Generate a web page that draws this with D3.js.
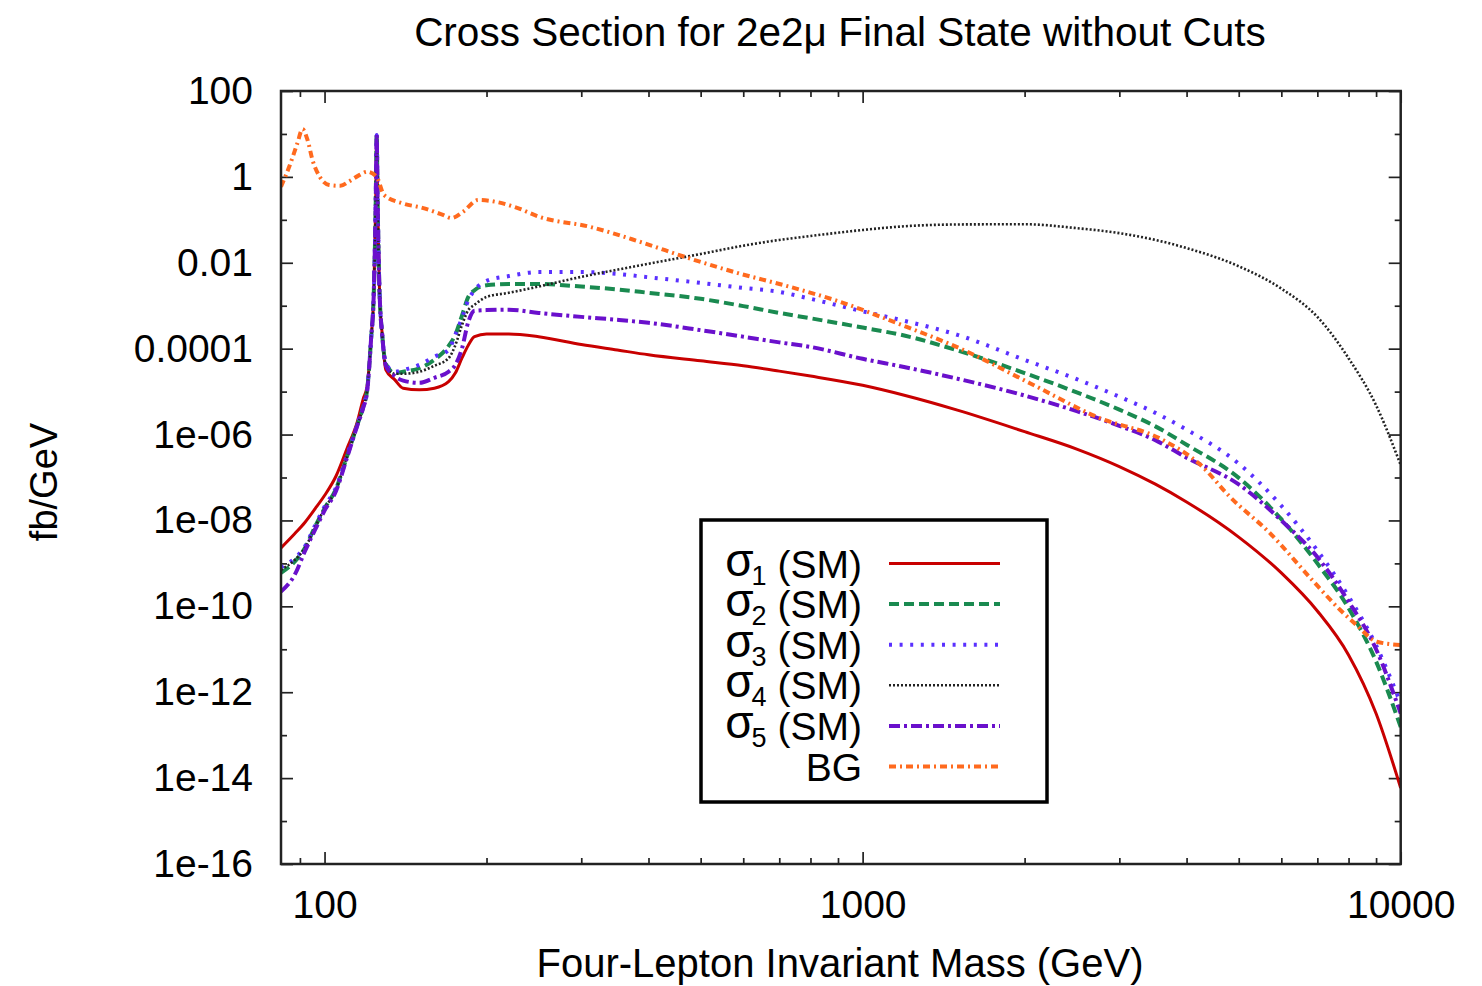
<!DOCTYPE html>
<html>
<head>
<meta charset="utf-8">
<script src="https://cdn.jsdelivr.net/npm/d3@7"></script>
<style>
  body { margin: 0; background: #fff; }
  text { font-family: "Liberation Sans", Arial, Helvetica, sans-serif; }
</style>
</head>
<body>
<svg id="chart" width="1482" height="986"></svg>
<script>
// ---- data (fb/GeV vs four-lepton mass in GeV) ----
var sigMass = [83, 88, 92, 96, 100, 105, 110, 115, 118, 120,
    122, 123.5, 124.5, 125, 125.5, 126.5, 128, 130, 135, 140,
    150, 160, 170, 175, 180, 185, 190, 200, 220, 250,
    300, 350, 400, 500, 600, 700, 800, 1000, 1200, 1500,
    2000, 2500, 3000, 3500, 4000, 5000, 6000, 7000, 8000, 9000, 10000];

var sigma1 = [2.3e-9, 4.9e-9, 9.1e-9, 1.86e-8, 3.8e-8, 1.07e-7, 4.6e-7, 1.95e-6, 6.8e-6, 1.35e-5,
    1.6e-4, 2.3e-3, 2.9e-1, 9.5, 2.9e-1, 2.3e-3, 2.1e-4, 3.2e-5, 1.9e-5, 1.2e-5,
    1.1e-5, 1.2e-5, 1.7e-5, 2.7e-5, 6.0e-5, 1.2e-4, 1.9e-4, 2.2e-4, 2.2e-4, 1.9e-4,
    1.25e-4, 9.3e-5, 7.2e-5, 5.2e-5, 4.0e-5, 3.0e-5, 2.3e-5, 1.4e-5, 8.1e-6, 3.7e-6,
    1.17e-6, 4.6e-7, 1.8e-7, 7.0e-8, 2.7e-8, 4.1e-9, 6.0e-10, 7.8e-11, 7.4e-12, 3.2e-13, 5.9e-15];

var sigma2 = [6.0e-10, 1.1e-9, 2.3e-9, 7.1e-9, 1.9e-8, 5.4e-8, 3.0e-7, 1.66e-6, 4.4e-6, 1.1e-5,
    1.6e-4, 2.3e-3, 2.9e-1, 9.5, 2.9e-1, 2.3e-3, 2.1e-4, 4.4e-5, 2.7e-5, 2.9e-5,
    3.5e-5, 5.5e-5, 1.15e-4, 2.1e-4, 5.8e-4, 1.6e-3, 2.3e-3, 3.0e-3, 3.2e-3, 3.2e-3,
    2.8e-3, 2.4e-3, 2.0e-3, 1.45e-3, 9.8e-4, 6.8e-4, 5.1e-4, 3.1e-4, 2.0e-4, 9.1e-5,
    2.7e-5, 9.6e-6, 3.8e-6, 1.55e-6, 5.8e-7, 9.8e-8, 1.07e-8, 1.0e-9, 9.1e-11, 5.2e-12, 1.55e-13];

var sigma3 = [8.1e-10, 1.3e-9, 2.5e-9, 7.6e-9, 2.1e-8, 5.8e-8, 3.2e-7, 1.7e-6, 4.6e-6, 1.15e-5,
    1.6e-4, 2.3e-3, 2.9e-1, 9.5, 2.9e-1, 2.3e-3, 2.1e-4, 4.6e-5, 2.9e-5, 3.2e-5,
    4.2e-5, 6.5e-5, 9.3e-5, 2.1e-4, 5.1e-4, 1.35e-3, 2.3e-3, 3.8e-3, 4.9e-3, 6.1e-3,
    6.1e-3, 5.5e-3, 4.6e-3, 3.4e-3, 2.6e-3, 2.1e-3, 1.45e-3, 7.4e-4, 4.4e-4, 2.1e-4,
    5.5e-5, 1.95e-5, 7.6e-6, 3.2e-6, 1.3e-6, 2.1e-7, 2.2e-8, 2.0e-9, 1.7e-10, 1.23e-11, 5.5e-13];

var sigma4 = [7.1e-10, 1.2e-9, 2.3e-9, 6.9e-9, 1.9e-8, 5.2e-8, 3.0e-7, 1.6e-6, 4.3e-6, 1.07e-5,
    1.6e-4, 2.3e-3, 2.9e-1, 9.5, 2.9e-1, 2.3e-3, 2.1e-4, 4.2e-5, 2.6e-5, 2.6e-5,
    2.9e-5, 4.0e-5, 6.0e-5, 1.2e-4, 3.5e-4, 7.9e-4, 1.05e-3, 1.6e-3, 2.0e-3, 2.8e-3,
    4.7e-3, 6.9e-3, 9.5e-3, 1.6e-2, 2.5e-2, 3.4e-2, 4.2e-2, 5.8e-2, 7.1e-2, 7.8e-2,
    7.9e-2, 6.4e-2, 4.9e-2, 3.4e-2, 2.2e-2, 8.3e-3, 2.5e-3, 5.5e-4, 6.0e-5, 4.8e-6, 1.95e-7];

var sigma5 = [2.2e-10, 5.4e-10, 1.95e-9, 6.0e-9, 1.7e-8, 4.8e-8, 2.8e-7, 1.6e-6, 4.2e-6, 1.0e-5,
    1.6e-4, 2.3e-3, 2.9e-1, 9.5, 2.9e-1, 2.3e-3, 2.1e-4, 4.0e-5, 2.3e-5, 1.8e-5,
    1.6e-5, 2.1e-5, 2.9e-5, 4.2e-5, 1.0e-4, 4.2e-4, 7.6e-4, 7.9e-4, 8.1e-4, 6.8e-4,
    5.5e-4, 4.7e-4, 4.0e-4, 2.7e-4, 1.9e-4, 1.4e-4, 1.1e-4, 5.8e-5, 3.7e-5, 2.0e-5,
    8.1e-6, 3.5e-6, 1.6e-6, 7.4e-7, 2.9e-7, 6.9e-8, 1.0e-8, 1.4e-9, 1.3e-10, 1.0e-11, 3.2e-13];

var bgMass = [83, 86, 89, 91, 93, 95, 98, 102, 107, 111,
    116, 120, 125, 129, 140, 152, 166, 172, 181, 193,
    209, 228, 251, 311, 385, 477, 591, 733, 908, 1160,
    1540, 2050, 2720, 3620, 4240, 4820, 5720, 6800, 7730, 8290, 9030, 10000];

var bgValues = [0.59, 1.74, 6.0, 12.9, 7.2, 2.45, 1.0, 0.65, 0.62, 0.78,
    1.1, 1.32, 1.0, 0.38, 0.24, 0.19, 0.13, 0.11, 0.155, 0.29,
    0.26, 0.19, 0.117, 0.069, 0.031, 0.0126, 5.6e-3, 2.75e-3, 1.23e-3, 3.9e-4,
    9.3e-5, 1.55e-5, 2.6e-6, 7.4e-7, 2.0e-7, 3.5e-8, 5.0e-9, 4.5e-10, 8.1e-11, 3.6e-11, 1.5e-11, 1.26e-11];

var legendNames = ["1", "2", "3", "4", "5", "BG"];
var yTickValues = [1e2, 1, 1e-2, 1e-4, 1e-6, 1e-8, 1e-10, 1e-12, 1e-14, 1e-16];
var yTickLabels = ["100", "1", "0.01", "0.0001", "1e-06", "1e-08", "1e-10", "1e-12", "1e-14", "1e-16"];
var yMinorTicks = [1e1, 1e-1, 1e-3, 1e-5, 1e-7, 1e-9, 1e-11, 1e-13, 1e-15];
var xTickValues = [100, 1000, 10000];
var xTickLabels = ["100", "1000", "10000"];
var xMinorTicks = [90, 200, 300, 400, 500, 600, 700, 800, 900, 2000, 3000, 4000, 5000, 6000, 7000, 8000, 9000];

// ---- layout ----
var plot = {left: 281, right: 1400.7, top: 91, bottom: 864};
var svg = d3.select("#chart");

var x = d3.scaleLog().domain([83, 10000]).range([plot.left, plot.right]);
var y = d3.scaleLog().domain([1e-16, 1e2]).range([plot.bottom, plot.top]);

var series = [
    {mass: sigMass, vals: sigma1, color: "#c80000", width: 3,   dash: null},
    {mass: sigMass, vals: sigma2, color: "#1a8a50", width: 4,   dash: "10,5"},
    {mass: sigMass, vals: sigma3, color: "#5a30ff", width: 4,   dash: "3,7.6"},
    {mass: sigMass, vals: sigma4, color: "#222222", width: 2.6, dash: "2,2"},
    {mass: sigMass, vals: sigma5, color: "#6a10cc", width: 4,   dash: "11,4,3,4"},
    {mass: bgMass,  vals: bgValues, color: "#ff6a1e", width: 4, dash: "7,4,2,4"}
];

svg.append("rect").attr("width", 1482).attr("height", 986).attr("fill", "#fff");

svg.append("clipPath").attr("id", "clip")
    .append("rect")
    .attr("x", plot.left).attr("y", plot.top)
    .attr("width", plot.right - plot.left).attr("height", plot.bottom - plot.top);

// axes ----------------------------------------------------------------
var fontStack = '"Liberation Sans", Arial, Helvetica, sans-serif';
function tidy(g) {
    g.select(".domain").remove();
    g.selectAll(".tick line").attr("stroke", "#222").attr("stroke-width", 1.7);
    g.selectAll("text").attr("fill", "#000");
    g.attr("font-size", 39).attr("font-family", fontStack);
}

svg.append("g").attr("transform", "translate(0," + plot.bottom + ")")
    .call(d3.axisBottom(x).tickValues(xTickValues)
        .tickFormat(function(d, i) { return xTickLabels[i]; })
        .tickSize(-12).tickPadding(26))
    .call(tidy);
svg.append("g").attr("transform", "translate(0," + plot.bottom + ")")
    .call(d3.axisBottom(x).tickValues(xMinorTicks).tickFormat("").tickSize(-6))
    .call(tidy);
svg.append("g").attr("transform", "translate(0," + plot.top + ")")
    .call(d3.axisTop(x).tickValues(xTickValues).tickFormat("").tickSize(-12))
    .call(tidy);
svg.append("g").attr("transform", "translate(0," + plot.top + ")")
    .call(d3.axisTop(x).tickValues(xMinorTicks).tickFormat("").tickSize(-6))
    .call(tidy);

svg.append("g").attr("transform", "translate(" + plot.left + ",0)")
    .call(d3.axisLeft(y).tickValues(yTickValues)
        .tickFormat(function(d, i) { return yTickLabels[i]; })
        .tickSize(-12).tickPadding(28))
    .call(tidy);
svg.append("g").attr("transform", "translate(" + plot.left + ",0)")
    .call(d3.axisLeft(y).tickValues(yMinorTicks).tickFormat("").tickSize(-6))
    .call(tidy);
svg.append("g").attr("transform", "translate(" + plot.right + ",0)")
    .call(d3.axisRight(y).tickValues(yTickValues).tickFormat("").tickSize(-12))
    .call(tidy);
svg.append("g").attr("transform", "translate(" + plot.right + ",0)")
    .call(d3.axisRight(y).tickValues(yMinorTicks).tickFormat("").tickSize(-6))
    .call(tidy);

// curves --------------------------------------------------------------
var line = d3.line()
    .x(function(d) { return x(d[0]); })
    .y(function(d) { return y(d[1]); })
    .curve(d3.curveMonotoneX);

var curves = svg.append("g").attr("clip-path", "url(#clip)");
series.forEach(function(s) {
    var pts = s.mass.map(function(m, i) { return [m, s.vals[i]]; });
    curves.append("path")
        .datum(pts)
        .attr("d", line)
        .attr("fill", "none")
        .attr("stroke", s.color)
        .attr("stroke-width", s.width)
        .attr("stroke-dasharray", s.dash)
        .attr("stroke-linejoin", "round");
});

// frame
svg.append("rect")
    .attr("x", plot.left).attr("y", plot.top)
    .attr("width", plot.right - plot.left).attr("height", plot.bottom - plot.top)
    .attr("fill", "none").attr("stroke", "#222").attr("stroke-width", 2.5);

// legend --------------------------------------------------------------
var legend = svg.append("g");
legend.append("rect")
    .attr("x", 701).attr("y", 520).attr("width", 346).attr("height", 282)
    .attr("fill", "#fff").attr("stroke", "#000").attr("stroke-width", 3.5);

legendNames.forEach(function(name, i) {
    var cy = 563.5 + i * 40.6;
    var s = series[i];
    if (name === "BG") {
        legend.append("text")
            .attr("x", 862).attr("y", cy + 14)
            .attr("text-anchor", "end").attr("font-size", 39)
            .text("BG");
    } else {
        // "(SM)" part, then the sigma and its subscript placed to its left
        var sm = legend.append("text")
            .attr("x", 862).attr("y", cy + 14)
            .attr("text-anchor", "end").attr("font-size", 39)
            .text("(SM)");
        var left = 862 - sm.node().getComputedTextLength() - 11;
        legend.append("text")
            .attr("x", left).attr("y", cy + 21)
            .attr("text-anchor", "end").attr("font-size", 27)
            .text(name);
        legend.append("text")
            .attr("x", left - 13).attr("y", cy + 12)
            .attr("text-anchor", "end").attr("font-size", 46)
            .text("σ");
    }
    legend.append("line")
        .attr("x1", 889).attr("x2", 1000).attr("y1", cy).attr("y2", cy)
        .attr("stroke", s.color).attr("stroke-width", s.width)
        .attr("stroke-dasharray", s.dash);
});

// titles --------------------------------------------------------------
svg.append("text")
    .attr("x", 840).attr("y", 46)
    .attr("text-anchor", "middle").attr("font-size", 40.5)
    .text("Cross Section for 2e2μ Final State without Cuts");

svg.append("text")
    .attr("x", 840).attr("y", 977)
    .attr("text-anchor", "middle").attr("font-size", 40)
    .text("Four-Lepton Invariant Mass (GeV)");

svg.append("text")
    .attr("transform", "translate(57,482) rotate(-90)")
    .attr("text-anchor", "middle").attr("font-size", 38)
    .text("fb/GeV");
</script>
</body>
</html>
